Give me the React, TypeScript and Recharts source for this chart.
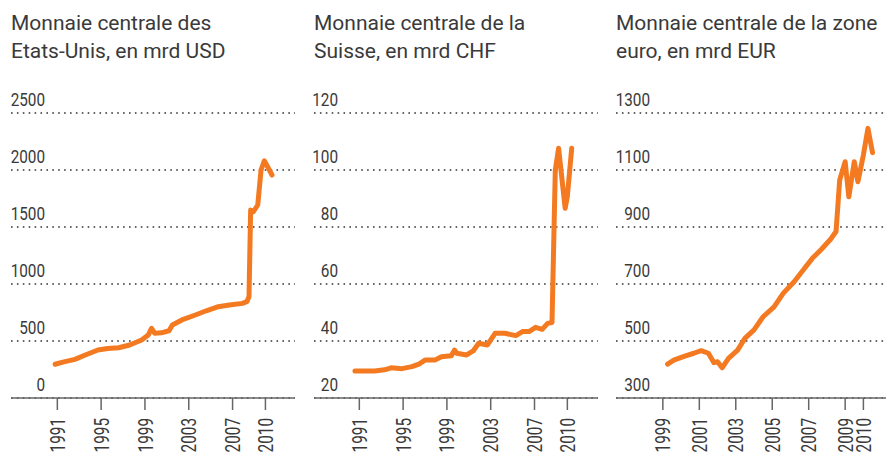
import React from "react";
import { LineChart, Line, XAxis, YAxis, CartesianGrid } from "recharts";

// ---- Data ----
const usYears = [1990.8, 1991.5, 1992.6, 1993.5, 1994.7, 1995.6, 1996.6, 1997.6, 1998.7, 1999.3, 1999.6, 1999.9, 2000.5, 2001.2, 2001.5, 2002.5, 2003.6, 2004.6, 2005.7, 2006.7, 2007.9, 2008.3, 2008.5, 2008.65, 2008.9, 2009.3, 2009.6, 2009.9, 2010.2, 2010.6];
const usValues = [296, 315, 339, 375, 421, 435, 441, 465, 509, 552, 611, 567, 572, 590, 640, 690, 728, 765, 801, 815, 830, 845, 889, 1649, 1634, 1693, 2000, 2081, 2029, 1956];

const chYears = [1990.6, 1992.4, 1993.3, 1993.9, 1994.9, 1995.8, 1996.5, 1997.0, 1997.9, 1998.5, 1999.4, 1999.7, 1999.9, 2000.8, 2001.4, 2001.9, 2002.7, 2003.4, 2004.3, 2005.3, 2005.9, 2006.5, 2007.1, 2007.7, 2008.2, 2008.6, 2008.9, 2009.2, 2009.8, 2010.0, 2010.4];
const chValues = [29.5, 29.5, 29.9, 30.6, 30.3, 31.0, 32.0, 33.3, 33.3, 34.5, 34.8, 36.8, 35.7, 35.1, 36.5, 39.2, 38.6, 42.7, 42.7, 41.9, 43.3, 43.3, 44.8, 44.1, 46.2, 46.5, 100, 107.6, 86.6, 90.7, 107.6];

const euYears = [1999.26, 1999.6, 2000.2, 2000.7, 2001.1, 2001.5, 2001.8, 2002.0, 2002.25, 2002.6, 2003.1, 2003.5, 2004.0, 2004.5, 2005.1, 2005.6, 2006.2, 2006.7, 2007.2, 2007.7, 2008.2, 2008.5, 2008.7, 2009.0, 2009.2, 2009.5, 2009.7, 2010.0, 2010.25, 2010.5];
const euValues = [419, 433, 447, 457, 466, 457, 424, 427, 406, 439, 468, 509, 539, 585, 620, 667, 708, 749, 790, 822, 857, 884, 1065, 1129, 1006, 1129, 1059, 1153, 1246, 1161];

const usTicksX = [1991, 1995, 1999, 2003, 2007, 2010];
const chTicksX = [1991, 1995, 1999, 2003, 2007, 2010];
const euTicksX = [1999, 2001, 2003, 2005, 2007, 2009, 2010];

const usTicksY = [0, 500, 1000, 1500, 2000, 2500];
const chTicksY = [20, 40, 60, 80, 100, 120];
const euTicksY = [300, 500, 700, 900, 1100, 1300];

const usTitle = ["Monnaie centrale des", "Etats-Unis, en mrd USD"];
const chTitle = ["Monnaie centrale de la", "Suisse, en mrd CHF"];
const euTitle = ["Monnaie centrale de la zone", "euro, en mrd EUR"];

const build = (xs: number[], ys: number[]) => xs.map((x, i) => ({ x, v: ys[i] }));

const FONT = "Roboto, 'DejaVu Sans', sans-serif";
const ORANGE = "#F47A22";
const TEXT = "#3a3a3a";

const XTick = (props: any) => {
  const { x, y, payload } = props;
  return (
    <g transform={`translate(${x},${y}) rotate(-90)`}>
      <text x={0} y={0} transform="scale(0.73,1)" textAnchor="end" dy="0.36em" fontSize={21} fontFamily={FONT} fill={TEXT}>
        {payload.value}
      </text>
    </g>
  );
};

const YTick = (props: any) => {
  const { x, y, payload, offset } = props;
  return (
    <g transform={`translate(${x + offset},${y - 7})`}>
      <text x={0} y={0} transform="scale(0.85,1)" textAnchor="end" fontSize={18} fontFamily={FONT} fill={TEXT}>
        {payload.value}
      </text>
    </g>
  );
};

type PanelProps = {
  left: number;
  width: number;
  title: string[];
  data: { x: number; v: number }[];
  xDomain: [number, number];
  xTicks: number[];
  yDomain: [number, number];
  yTicks: number[];
  labelOffset: number;
};

const Panel = ({ left, width, title, data, xDomain, xTicks, yDomain, yTicks, labelOffset }: PanelProps) => (
  <div style={{ position: "absolute", left, top: 0, width, height: 452 }}>
    <div
      style={{
        position: "absolute",
        left: 11,
        top: 9,
        fontFamily: FONT,
        fontSize: 21,
        lineHeight: "28px",
        color: TEXT,
        whiteSpace: "nowrap",
      }}
    >
      {title[0]}
      <br />
      {title[1]}
    </div>
    <LineChart width={width} height={452} data={data} margin={{ top: 113, right: 0, bottom: 0, left: 10 }}>
      <CartesianGrid vertical={false} stroke="#333" strokeWidth={1.6} strokeDasharray="1.6 4.3" />
      <XAxis
        dataKey="x"
        type="number"
        domain={xDomain}
        ticks={xTicks}
        allowDataOverflow
        height={54}
        tickSize={12}
        tickMargin={8}
        axisLine={{ stroke: "#666", strokeWidth: 1.5 }}
        tickLine={{ stroke: "#666", strokeWidth: 1.5 }}
        tick={<XTick />}
        interval={0}
      />
      <YAxis
        type="number"
        domain={yDomain}
        ticks={yTicks}
        width={1}
        axisLine={false}
        tickLine={false}
        tickSize={0}
        tickMargin={0}
        tick={<YTick offset={labelOffset - 1} />}
        interval={0}
      />
      <Line
        dataKey="v"
        type="linear"
        stroke={ORANGE}
        strokeWidth={5}
        dot={false}
        strokeLinejoin="round"
        strokeLinecap="round"
        isAnimationActive={false}
      />
    </LineChart>
  </div>
);

export default function App() {
  return (
    <div style={{ position: "absolute", left: 0, top: 0, width: 886, height: 452, background: "#fff", overflow: "hidden" }}>
      <Panel
        left={0}
        width={295}
        title={usTitle}
        data={build(usYears, usValues)}
        xDomain={[1986.77, 2012.7]}
        xTicks={usTicksX}
        yDomain={[0, 2500]}
        yTicks={usTicksY}
        labelOffset={35}
      />
      <Panel
        left={303}
        width={295}
        title={chTitle}
        data={build(chYears, chValues)}
        xDomain={[1986.86, 2012.8]}
        xTicks={chTicksX}
        yDomain={[20, 120]}
        yTicks={chTicksY}
        labelOffset={25}
      />
      <Panel
        left={605}
        width={281}
        title={euTitle}
        data={build(euYears, euValues)}
        xDomain={[1996.43, 2011.24]}
        xTicks={euTicksX}
        yDomain={[300, 1300]}
        yTicks={euTicksY}
        labelOffset={35}
      />
    </div>
  );
}
